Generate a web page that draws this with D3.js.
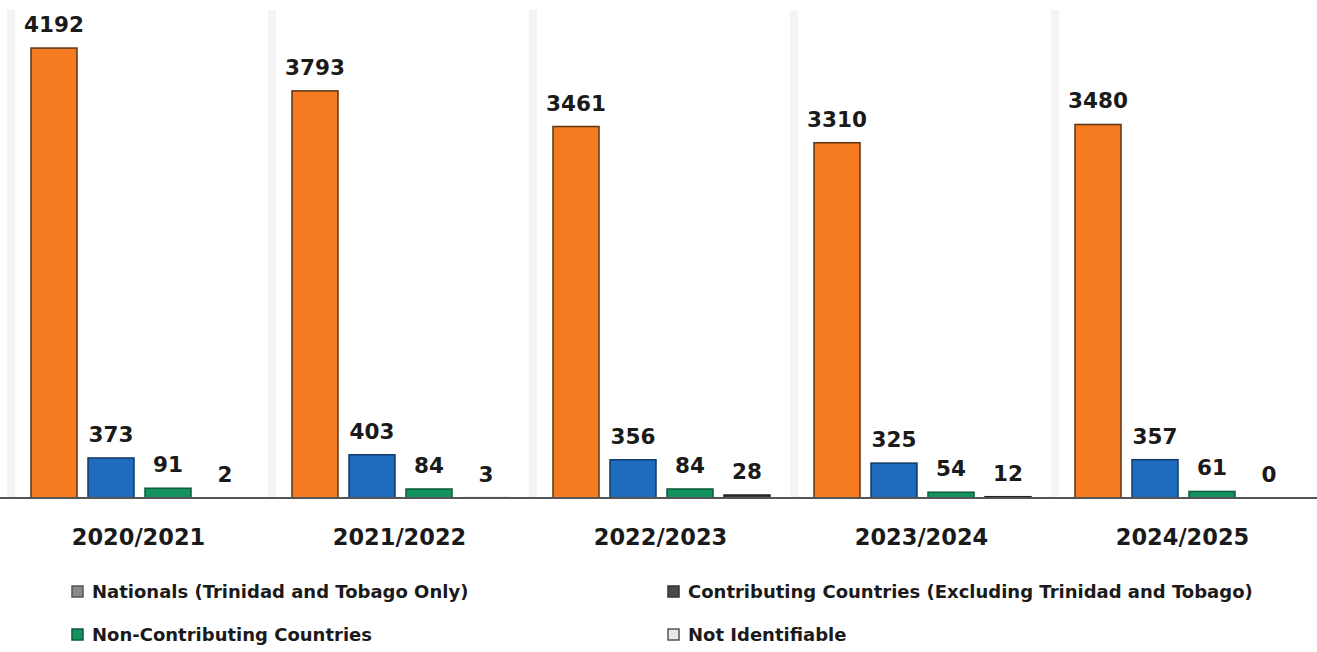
<!DOCTYPE html>
<html><head><meta charset="utf-8">
<script src="https://cdn.jsdelivr.net/npm/d3@7"></script>
<style>body{margin:0;background:#fff}svg{display:block}</style>
</head><body>
<svg id="c" width="1317" height="652"></svg>
<script>
const categories = ["2020/2021","2021/2022","2022/2023","2023/2024","2024/2025"];
const seriesNames = ["Nationals (Trinidad and Tobago Only)","Contributing Countries (Excluding Trinidad and Tobago)","Non-Contributing Countries","Not Identifiable"];
const nationals = [4192,3793,3461,3310,3480];
const contributing = [373,403,356,325,357];
const nonContributing = [91,84,84,54,61];
const notIdentifiable = [2,3,28,12,0];
const seriesValues = [nationals, contributing, nonContributing, notIdentifiable];
const barColors = ["#f47b20","#1f6cbf","#13925f","#3a3a3a"];
const barStrokes = ["#5a3415","#123a66","#0c5c3b","#222"];
const legendFill = ["#8a8a8a","#4a4a4a","#13925f","#e8e8e8"];
const legendStroke = ["#555","#333","#0c5c3b","#555"];

const svg = d3.select("#c");
const font = "'DejaVu Sans', sans-serif";
const x0 = d3.scaleBand().domain(categories).range([8,1313]).padding(0);
const x1 = d3.scaleBand().domain(seriesNames).range([17.5,245.5]).paddingInner(0.193).paddingOuter(0.0965);
const y = d3.scaleLinear().domain([0,4500]).range([498,15]);

// faint vertical separators
svg.append("g").selectAll("rect").data(categories).join("rect")
  .attr("x", d => x0(d)-1).attr("y", 10).attr("width", 8).attr("height", 488)
  .attr("fill", "#f4f4f4");

const rows = [];
categories.forEach((c,i) => seriesNames.forEach((s,j) => rows.push({c, s, j, v: seriesValues[j][i]})));

const g = svg.append("g");
g.selectAll("rect.bar").data(rows).join("rect").attr("class","bar")
  .attr("x", d => x0(d.c)+x1(d.s))
  .attr("y", d => y(d.v))
  .attr("width", x1.bandwidth())
  .attr("height", d => Math.max(0, y(0)-y(d.v)))
  .attr("fill", d => barColors[d.j])
  .attr("stroke", d => barStrokes[d.j]).attr("stroke-width", 1.5);

g.selectAll("text.val").data(rows).join("text").attr("class","val")
  .attr("x", d => x0(d.c)+x1(d.s)+x1.bandwidth()/2)
  .attr("y", d => y(d.v)-16)
  .attr("text-anchor","middle")
  .attr("font-family", font).attr("font-weight","bold").attr("font-size", 21.5)
  .attr("fill","#1a1a1a")
  .text(d => d.v);

// axis
const ax = svg.append("g").attr("transform","translate(0,498)")
  .call(d3.axisBottom(x0).tickSize(0).tickPadding(31));
ax.select(".domain").attr("d","M0,0H1317").attr("stroke","#555").attr("stroke-width",2);
ax.selectAll("text").attr("font-family",font).attr("font-weight","bold").attr("font-size",22.5).attr("fill","#1a1a1a");

// legend
const legPos = [[72,592],[668,592],[72,635],[668,635]];
const lg = svg.append("g").selectAll("g").data(seriesNames).join("g")
  .attr("transform",(d,i)=>`translate(${legPos[i][0]},${legPos[i][1]})`);
lg.append("rect").attr("x",0).attr("y",-6).attr("width",11).attr("height",11)
  .attr("fill",(d,i)=>legendFill[i]).attr("stroke",(d,i)=>legendStroke[i]).attr("stroke-width",1.5);
lg.append("text").attr("x",20).attr("y",6)
  .attr("font-family",font).attr("font-weight","bold").attr("font-size",18)
  .attr("fill","#1a1a1a").text(d=>d);
</script>
</body></html>
